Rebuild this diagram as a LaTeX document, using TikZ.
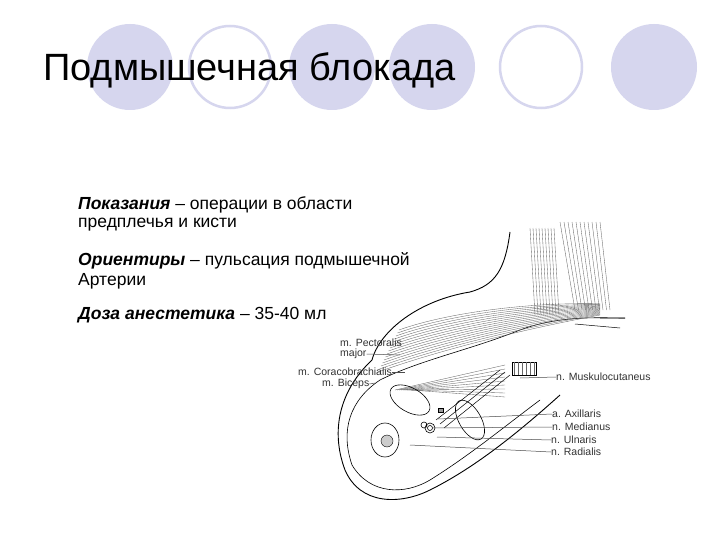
\documentclass[tikz,border=0pt]{standalone}
\usepackage{fontspec}
\setmainfont{Liberation Sans}
\begin{document}
\begin{tikzpicture}[x=1pt,y=-1pt,
  ringc/.style={draw=lav,line width=2.5pt},
  lbl/.style={font=\fontsize{10.5}{11}\selectfont,inner sep=0pt,anchor=west,text=black!80},
  body/.style={font=\fontsize{17.5}{19}\selectfont,anchor=west,inner sep=0pt,align=left},
  lead/.style={draw=black!70,line width=0.5pt},
  musc/.style={draw=black!60,line width=0.35pt}]
\definecolor{lav}{RGB}{214,214,238}
\useasboundingbox (0,0) rectangle (720,540);
\fill[white] (0,0) rectangle (720,540);
% circles
\fill[lav] (130,67) circle (43);
\draw[ringc] (230,67) circle (41);
\fill[lav] (332,67) circle (43);
\fill[lav] (432,67) circle (43);
\draw[ringc] (541,67) circle (41);
\fill[lav] (654,67) circle (43);
\node[anchor=west,inner sep=0pt,font=\fontsize{38}{40}\selectfont] (title) at (43,70) {Подмышечная блокада};
% text
\node[body] (t1) at (78,205) {\textit{\textbf{Показания}} – операции в области};
\node[body] (t2) at (78,225) {предплечья и кисти};
\node[body] (t3) at (78,261) {\textit{\textbf{Ориентиры}} – пульсация подмышечной};
\node[body] (t4) at (78,281) {Артерии};
\node[body] (t5) at (78,315) {\textit{\textbf{Доза анестетика}} – 35-40 мл};
% arm outline
\draw[line width=0.9pt] (510,232) .. controls (505,270) and (495,285) .. (470,292)
  .. controls (420,300) and (380,330) .. (372,360)
  .. controls (340,390) and (330,430) .. (345,470)
  .. controls (360,505) and (400,505) .. (430,490)
  .. controls (470,470) and (510,440) .. (560,395);
\draw[line width=0.6pt] (352,465) .. controls (340,430) and (350,400) .. (380,380)
  .. controls (420,360) and (470,350) .. (520,330)
  .. controls (560,315) and (600,318) .. (625,318);
\draw[line width=0.6pt] (352,465) .. controls (370,495) and (405,495) .. (430,480)
  .. controls (470,455) and (500,430) .. (540,400);
% muscle hatching
\foreach \i in {0,...,14}{
  \draw[musc] (378+\i*1.5,372-\i*3) .. controls (440,350-\i*2.5) and (520,330-\i*2) .. (600,315-\i*0.8);}
\foreach \i in {0,...,10}{
  \draw[musc] (560+\i*4,222) -- (575+\i*3.5,310);}
\foreach \i in {0,...,8}{
  \draw[musc] (530+\i*3,228) -- (535+\i*3,315);}
\foreach \i in {0,...,8}{
  \draw[musc] (395+\i*2,390) -- (505,365+\i*4);}
\draw[line width=0.5pt] (600,318) -- (625,318) (575,324) -- (620,328);
% inner structures
\draw[line width=0.6pt] (385,440) ellipse (14 and 17);
\draw[line width=0.4pt,fill=black!20] (387,441) circle (6);
\draw[line width=0.6pt,rotate around={-30:(410,400)}] (410,400) ellipse (22 and 12);
\draw[line width=0.6pt,rotate around={-60:(470,420)}] (470,420) ellipse (22 and 11);
\draw[line width=0.6pt] (430,428) circle (5) (430,428) circle (2.5) (424,425) circle (3);
\draw[line width=0.5pt] (436,420) -- (500,370) (440,424) -- (505,372) (444,428) -- (510,375);
\draw[fill=black!40] (438,408) rectangle (443,412);
\draw[line width=0.5pt] (512,362) rectangle (536,375);
\foreach \i in {0,...,5}{\draw[musc] (514+\i*4,362) -- (514+\i*4,375);}
% labels
\node[lbl] (pm) at (340,343) {m. Pectoralis};
\node[lbl] (pm2) at (340,354) {major};
\node[lbl] (cb) at (298,372) {m. Coracobrachialis};
\node[lbl] (bi) at (322,384) {m. Biceps};
\node[lbl] (mu) at (556,377) {n. Muskulocutaneus};
\node[lbl] (ax) at (552,414) {a. Axillaris};
\node[lbl] (me) at (552,427) {n. Medianus};
\node[lbl] (ul) at (551,440) {n. Ulnaris};
\node[lbl] (ra) at (551,452) {n. Radialis};
\coordinate (cpm) at (400,355);
\coordinate (ccb) at (405,372);
\coordinate (cbi) at (375,383);
\coordinate (cmu) at (520,378);
\coordinate (cax) at (438,419);
\coordinate (cme) at (432,428);
\coordinate (cul) at (437,437);
\coordinate (cra) at (410,445);
\draw[lead] (pm2.east) -- (cpm);
\draw[lead] (cb.east) -- (ccb);
\draw[lead] (bi.east) -- (cbi);
\draw[lead] (mu.west) -- (cmu);
\draw[lead] (ax.west) -- (cax);
\draw[lead] (me.west) -- (cme);
\draw[lead] (ul.west) -- (cul);
\draw[lead] (ra.west) -- (cra);
\end{tikzpicture}
\end{document}
